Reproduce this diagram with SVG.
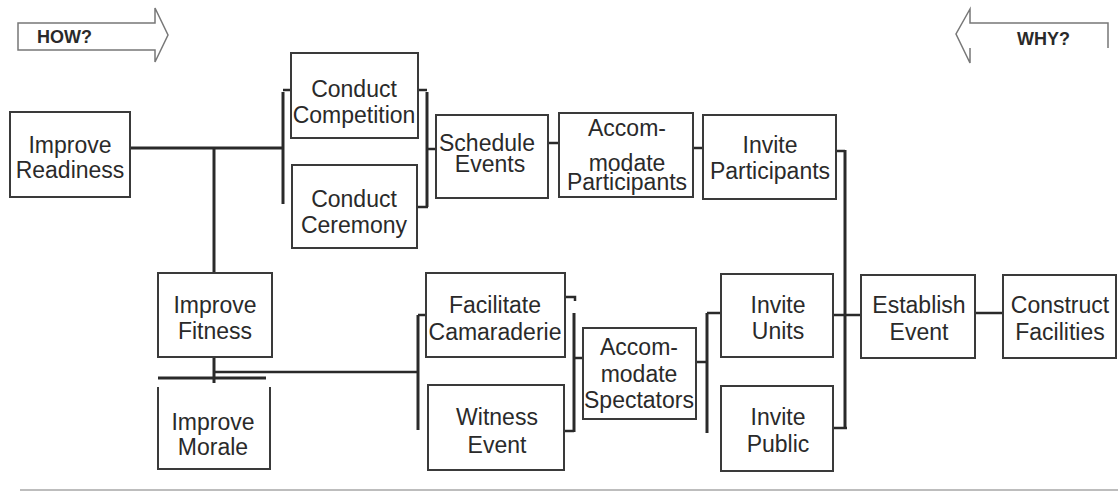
<svg xmlns="http://www.w3.org/2000/svg" width="1118" height="492" viewBox="0 0 1118 492">
  <style>
    .box { fill: #fff; stroke: #3a3a3a; stroke-width: 2; }
    .open { fill: none; stroke: #3a3a3a; stroke-width: 2; }
    .lbl { font-family: "Liberation Sans", Arial, sans-serif; font-size: 23px; fill: #2a2a2a; text-anchor: middle; }
    .hdr { font-family: "Liberation Sans", Arial, sans-serif; font-size: 18px; font-weight: bold; fill: #2a2a2a; }
    .wire { fill: none; stroke: #2a2a2a; stroke-width: 3; }
    .stub { fill: none; stroke: #2a2a2a; stroke-width: 2.5; }
    .arrow { fill: #fff; stroke: #777; stroke-width: 1.5; }
  </style>
  <rect width="1118" height="492" fill="#fff"/>

  <!-- direction arrows -->
  <g id="how">
    <polygon class="arrow" points="18,23 155,23 155,8 168,35 155,62 155,50 18,50"/>
    <text class="hdr" x="37" y="43">HOW?</text>
  </g>
  <g id="why">
    <path class="arrow" fill="none" d="M1108,48 V23 H970 V9 L956,34 L970,63 V48"/>
    <text class="hdr" x="1017" y="45">WHY?</text>
  </g>

  <!-- connectors -->
  <g id="connectors">
    <!-- Improve Readiness to the conduct pair and to fitness -->
    <path class="wire" d="M130,148 H283"/>
    <path class="wire" d="M214,148 V273"/>
    <path class="wire" d="M283,92 V204"/>
    <path class="stub" d="M283,90 H291"/>
    <!-- conduct pair joined to Schedule Events -->
    <path class="wire" d="M427,92 V207"/>
    <path class="stub" d="M418,90 H427"/>
    <path class="stub" d="M418,207 H428"/>
    <path class="stub" d="M427,149 H436"/>
    <path class="stub" d="M548,143 H559"/>
    <path class="stub" d="M693,148 H703"/>
    <!-- participants / units / public joined to Establish Event -->
    <path class="stub" d="M836,151 H845"/>
    <path class="wire" d="M845,150 V428"/>
    <path class="stub" d="M833,428 H847"/>
    <path class="stub" d="M833,315 H861"/>
    <path class="stub" d="M975,313 H1003"/>
    <!-- fitness to morale and to the camaraderie pair -->
    <path class="wire" d="M214,357 V383"/>
    <path class="wire" d="M158,378 H266"/>
    <path class="stub" d="M214,372 H418"/>
    <path class="wire" d="M418,315 V430"/>
    <path class="stub" d="M418,315 H426"/>
    <!-- camaraderie pair joined to Accommodate Spectators -->
    <path class="stub" d="M565,297 H575 V301"/>
    <path class="wire" d="M574,313 V432"/>
    <path class="stub" d="M564,431 H574"/>
    <path class="stub" d="M574,358 H583"/>
    <!-- spectators to units / public -->
    <path class="stub" d="M696,362 H707"/>
    <path class="wire" d="M707,313 V433"/>
    <path class="stub" d="M707,313 H721"/>
  </g>

  <!-- nodes -->
  <g id="improve-readiness">
    <rect class="box" x="10" y="112" width="120" height="85"/>
    <text class="lbl" x="70" y="153">Improve</text>
    <text class="lbl" x="70" y="178">Readiness</text>
  </g>
  <g id="conduct-competition">
    <rect class="box" x="291" y="53" width="127" height="85"/>
    <text class="lbl" x="354" y="97">Conduct</text>
    <text class="lbl" x="354" y="123">Competition</text>
  </g>
  <g id="conduct-ceremony">
    <rect class="box" x="292" y="165" width="125" height="83"/>
    <text class="lbl" x="354" y="207">Conduct</text>
    <text class="lbl" x="354" y="233">Ceremony</text>
  </g>
  <g id="schedule-events">
    <rect class="box" x="436" y="115" width="112" height="83"/>
    <text class="lbl" x="487" y="151">Schedule</text>
    <text class="lbl" x="490" y="172">Events</text>
  </g>
  <g id="accommodate-participants">
    <rect class="box" x="559" y="113" width="134" height="84"/>
    <text class="lbl" x="627" y="136">Accom-</text>
    <text class="lbl" x="627" y="171">modate</text>
    <text class="lbl" x="627" y="190">Participants</text>
  </g>
  <g id="invite-participants">
    <rect class="box" x="703" y="115" width="133" height="84"/>
    <text class="lbl" x="770" y="153">Invite</text>
    <text class="lbl" x="770" y="179">Participants</text>
  </g>
  <g id="improve-fitness">
    <rect class="box" x="158" y="273" width="114" height="84"/>
    <text class="lbl" x="215" y="313">Improve</text>
    <text class="lbl" x="215" y="339">Fitness</text>
  </g>
  <g id="improve-morale">
    <path class="open" d="M158,387 V469 H270 V387"/>
    <text class="lbl" x="213" y="430">Improve</text>
    <text class="lbl" x="213" y="455">Morale</text>
  </g>
  <g id="facilitate-camaraderie">
    <rect class="box" x="426" y="273" width="139" height="84"/>
    <text class="lbl" x="495" y="313">Facilitate</text>
    <text class="lbl" x="495" y="340">Camaraderie</text>
  </g>
  <g id="witness-event">
    <rect class="box" x="428" y="385" width="136" height="85"/>
    <text class="lbl" x="497" y="425">Witness</text>
    <text class="lbl" x="497" y="453">Event</text>
  </g>
  <g id="accommodate-spectators">
    <rect class="box" x="583" y="328" width="113" height="91"/>
    <text class="lbl" x="639" y="355">Accom-</text>
    <text class="lbl" x="639" y="382">modate</text>
    <text class="lbl" x="639" y="408">Spectators</text>
  </g>
  <g id="invite-units">
    <rect class="box" x="721" y="274" width="112" height="83"/>
    <text class="lbl" x="778" y="313">Invite</text>
    <text class="lbl" x="778" y="339">Units</text>
  </g>
  <g id="invite-public">
    <rect class="box" x="721" y="386" width="112" height="85"/>
    <text class="lbl" x="778" y="425">Invite</text>
    <text class="lbl" x="778" y="452">Public</text>
  </g>
  <g id="establish-event">
    <rect class="box" x="861" y="275" width="114" height="83"/>
    <text class="lbl" x="919" y="313">Establish</text>
    <text class="lbl" x="919" y="340">Event</text>
  </g>
  <g id="construct-facilities">
    <rect class="box" x="1003" y="275" width="113" height="83"/>
    <text class="lbl" x="1060" y="313">Construct</text>
    <text class="lbl" x="1060" y="340">Facilities</text>
  </g>

  <!-- page rule at the foot -->
  <path d="M20,490 H1118" stroke="#bdbdbd" stroke-width="2"/>
</svg>
